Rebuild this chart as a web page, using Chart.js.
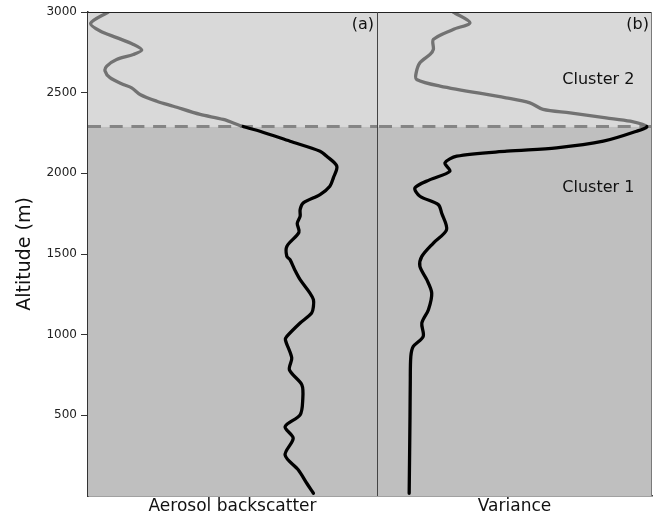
<!DOCTYPE html>
<html>
<head>
<meta charset="utf-8">
<script src="https://cdn.jsdelivr.net/npm/chart.js@4"></script>
<style>
    html, body { margin: 0; padding: 0; background: #ffffff; }
    #wrap { position: relative; width: 656px; height: 518px; }
    #chartA { position: absolute; left: 0; top: 0; }
    #chartB { position: absolute; left: 377px; top: 0; }
</style>
</head>
<body>
<div id="wrap">
    <canvas id="chartA" width="377" height="518"></canvas>
    <canvas id="chartB" width="279" height="518"></canvas>
</div>
<script>
// altitude (m) and profile values (arbitrary units, 0-100 across each panel)
const clusterBoundary = 2290;
const altitudeTicks = [500, 1000, 1500, 2000, 2500, 3000];

const backscatterAlt = [3000, 2930, 2882, 2841, 2799, 2764, 2737, 2706, 2665, 2634, 2593, 2551, 2530, 2489, 2447, 2416, 2365, 2334, 2290,
    2261, 2199, 2137, 2106, 2044, 1972, 1920, 1868, 1817, 1775, 1734, 1690, 1635, 1547, 1485, 1465, 1400, 1341, 1258,
    1217, 1175, 1134, 1072, 989, 968, 855, 782, 689, 596, 503, 430, 358, 254, 161, 79, 17];
const backscatterVal = [7.0, 0.9, 4.2, 9.9, 15.7, 18.6, 15.7, 9.9, 6.5, 5.9, 7.6, 12.2, 15.1, 18.0, 23.8, 29.5, 38.8, 46.8, 53.7,
    59.5, 69.9, 80.3, 82.6, 86.1, 84.9, 83.7, 80.3, 74.5, 73.4, 73.4, 72.4, 73.0, 68.8, 68.8, 69.9, 71.6, 73.4, 76.8,
    78.0, 78.0, 77.4, 73.4, 68.8, 68.3, 70.5, 69.7, 74.0, 74.3, 73.4, 68.2, 71.0, 68.2, 72.8, 75.7, 78.0];

const varianceAlt = [3000, 2934, 2892, 2830, 2768, 2737, 2685, 2620, 2582, 2541, 2468, 2437, 2396, 2375, 2344, 2323, 2290,
    2261, 2199, 2158, 2137, 2106, 2065, 2013, 1961, 1910, 1858, 1806, 1754, 1651, 1568, 1485, 1423, 1341, 1258, 1155, 1072,
    989, 927, 865, 700, 492, 17];
const varianceVal = [27.7, 33.8, 27.7, 20.5, 20.5, 19.3, 15.6, 14.2, 14.4, 22.9, 46.9, 55.6, 60.4, 70.2, 83.3, 92.1, 98.1,
    94.4, 82.3, 65.3, 47.2, 29.0, 24.7, 26.5, 19.3, 13.8, 15.6, 22.3, 23.5, 25.3, 20.5, 16.3, 15.6, 18.1, 19.9, 18.7, 16.3,
    16.8, 13.2, 12.3, 12.1, 12.0, 11.7];

const FONT = '"DejaVu Sans", "Liberation Sans", sans-serif';
const COLOR_UPPER_BG = '#d9d9d9';
const COLOR_LOWER_BG = '#bfbfbf';
const COLOR_UPPER_LINE = '#727272';
const COLOR_LOWER_LINE = '#000000';

Chart.defaults.font.family = FONT;
Chart.defaults.color = '#111';

function toPoints(alts, vals) {
    return alts.map((a, i) => ({ x: vals[i], y: a }));
}

function profileDataset(alts, vals) {
    return {
        data: toPoints(alts, vals),
        borderWidth: 3.3,
        borderColor: COLOR_LOWER_LINE,
        pointRadius: 0,
        tension: 0.3,
        borderCapStyle: 'round',
        borderJoinStyle: 'round',
        segment: {
            borderColor: ctx => Math.min(ctx.p0.parsed.y, ctx.p1.parsed.y) >= clusterBoundary ? COLOR_UPPER_LINE : COLOR_LOWER_LINE
        }
    };
}

// background bands, dashed boundary, frame and labels
function panelPlugin(opts) {
    return {
        id: 'panel' + opts.tag,
        beforeDatasetsDraw(chart) {
            const { ctx, chartArea: a, scales: { y } } = chart;
            const yb = y.getPixelForValue(clusterBoundary);
            ctx.save();
            ctx.fillStyle = COLOR_UPPER_BG;
            ctx.fillRect(a.left, a.top, a.right - a.left, yb - a.top);
            ctx.fillStyle = COLOR_LOWER_BG;
            ctx.fillRect(a.left, yb, a.right - a.left, a.bottom - yb);
            ctx.strokeStyle = '#858585';
            ctx.lineWidth = 3;
            ctx.setLineDash([13, 8.7]);
            ctx.beginPath();
            ctx.moveTo(a.left + opts.dashOffset, yb);
            ctx.lineTo(a.right, yb);
            ctx.stroke();
            ctx.restore();
        },
        afterDraw(chart) {
            const { ctx, chartArea: a, scales: { x, y } } = chart;
            ctx.save();
            ctx.strokeStyle = '#222';
            ctx.lineWidth = 1.2;
            ctx.beginPath();
            ctx.moveTo(a.left, a.top + 0.5);
            ctx.lineTo(a.right, a.top + 0.5);
            ctx.stroke();
            if (opts.divider) {
                ctx.strokeStyle = '#444';
                ctx.lineWidth = 1;
                ctx.beginPath();
                ctx.moveTo(a.left + 0.5, a.top);
                ctx.lineTo(a.left + 0.5, a.bottom);
                ctx.stroke();
                ctx.strokeStyle = '#7a7a7a';
                ctx.beginPath();
                ctx.moveTo(a.right - 0.5, a.top);
                ctx.lineTo(a.right - 0.5, a.bottom);
                ctx.stroke();
            }
            ctx.fillStyle = '#111';
            ctx.font = '16px ' + FONT;
            ctx.textAlign = 'right';
            ctx.textBaseline = 'middle';
            ctx.fillText(opts.tag, a.right - 3, a.top + 13);
            if (opts.clusters) {
                ctx.textAlign = 'center';
                ctx.fillText('Cluster 2', x.getPixelForValue(80.5), y.getPixelForValue(2582));
                ctx.fillText('Cluster 1', x.getPixelForValue(80.5), y.getPixelForValue(1912));
            }
            ctx.restore();
        }
    };
}

function xAxis(title) {
    return {
        type: 'linear', min: 0, max: 100,
        ticks: { display: false },
        grid: { display: false },
        border: { display: true, color: '#444', width: 1.5 },
        title: { display: true, text: title, font: { size: 17 }, color: '#111', padding: { top: 0, bottom: 1 } },
        afterFit: s => { s.height = 22; }
    };
}

new Chart(document.getElementById('chartA'), {
    type: 'line',
    data: { datasets: [profileDataset(backscatterAlt, backscatterVal)] },
    options: {
        responsive: false,
        animation: false,
        layout: { padding: { top: 12, right: 0, left: 0, bottom: 0 } },
        plugins: { legend: { display: false }, tooltip: { enabled: false } },
        scales: {
            x: xAxis('Aerosol backscatter'),
            y: {
                type: 'linear', min: 0, max: 3000,
                afterBuildTicks: s => { s.ticks = altitudeTicks.map(v => ({ value: v })); },
                ticks: { font: { size: 12 }, color: '#222', padding: 4, callback: v => String(v) },
                grid: { drawOnChartArea: false, drawTicks: true, tickLength: 7, color: '#333' },
                border: { display: true, color: '#333', width: 1.5 },
                title: { display: true, text: 'Altitude (m)', font: { size: 19 }, color: '#111', padding: { top: 14 } },
                afterFit: s => { s.width = 88; }
            }
        }
    },
    plugins: [panelPlugin({ tag: '(a)', dashOffset: 0, divider: false, clusters: false })]
});

new Chart(document.getElementById('chartB'), {
    type: 'line',
    data: { datasets: [profileDataset(varianceAlt, varianceVal)] },
    options: {
        responsive: false,
        animation: false,
        layout: { padding: { top: 12, right: 4, left: 0, bottom: 0 } },
        plugins: { legend: { display: false }, tooltip: { enabled: false } },
        scales: {
            x: xAxis('Variance'),
            y: { type: 'linear', min: 0, max: 3000, display: false }
        }
    },
    plugins: [panelPlugin({ tag: '(b)', dashOffset: 2, divider: true, clusters: true })]
});
</script>
</body>
</html>
